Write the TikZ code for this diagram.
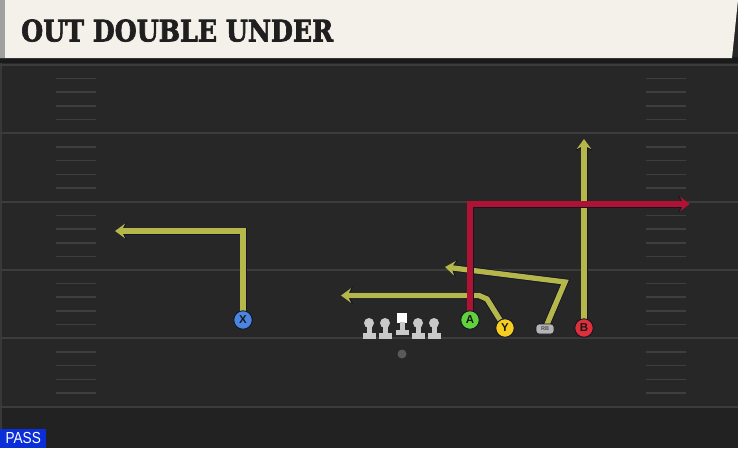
\documentclass[tikz,border=0pt]{standalone}
\usepackage{fontspec}
\setmainfont{Liberation Sans}
\newfontfamily\titlefont[FakeBold=2.5]{DejaVu Serif Bold}
\usetikzlibrary{arrows.meta}
\definecolor{fieldc}{HTML}{272727}
\definecolor{fieldlow}{HTML}{222222}
\definecolor{yardc}{HTML}{3C3C3C}
\definecolor{hashc}{HTML}{3E3E3E}
\definecolor{headc}{HTML}{F4F1EA}
\definecolor{headedge}{HTML}{A0A0A0}
\definecolor{shadowc}{HTML}{1A1A1A}
\definecolor{routey}{HTML}{B6B74B}
\definecolor{router}{HTML}{B01233}
\definecolor{routeedge}{HTML}{15152A}
\definecolor{xblue}{HTML}{4A86E0}
\definecolor{agreen}{HTML}{62D23C}
\definecolor{yyellow}{HTML}{F5CE20}
\definecolor{bred}{HTML}{DE2F3B}
\definecolor{rbgray}{HTML}{B4B4B4}
\definecolor{linec}{HTML}{C9C9C9}
\definecolor{passblue}{HTML}{0A2FD8}
\pgfdeclarelayer{bg}
\pgfdeclarelayer{routes}
\pgfsetlayers{bg,routes,main}
\begin{document}
\begin{tikzpicture}[x=1pt,y=-1pt,
  route/.style={line width=5.3pt, line join=miter, line cap=butt,
    preaction={draw=routeedge, line width=7pt, -{Stealth[length=12pt,width=17pt,inset=4.5pt]}},
    -{Stealth[length=10pt,width=14.5pt,inset=3.6pt]}},
  yroute/.style={route, draw=routey},
  rroute/.style={route, draw=router},
  player/.style={circle, draw=routeedge, line width=0.9pt, minimum size=18.5pt, inner sep=0pt,
    font=\fontsize{11.5}{11.5}\selectfont\bfseries, text=black!90},
  yardline/.style={draw=yardc, line width=2pt},
  hashmark/.style={draw=hashc, line width=1.5pt},
  lineman/.style={fill=linec}
]
\useasboundingbox (0,0) rectangle (738,448);
\begin{pgfonlayer}{bg}
  % field
  \fill[fieldc] (0,0) rectangle (738,448);
  \fill[fieldlow] (0,408) rectangle (738,448);
  \fill[yardc!80!fieldc] (0,58) rectangle (2,448);
  % yard lines
  \foreach \y in {65,133,202,270,338,407} \draw[yardline] (0,\y) -- (738,\y);
  % hash marks
  \foreach \a/\b in {65/133,133/202,202/270,270/338,338/407} {
    \foreach \k in {1,2,3,4} {
      \draw[hashmark] (56,{\a+\k*(\b-\a)/5}) -- (96,{\a+\k*(\b-\a)/5});
      \draw[hashmark] (646,{\a+\k*(\b-\a)/5}) -- (686,{\a+\k*(\b-\a)/5});
    }
  }
  % header
  \fill[shadowc] (0,57) rectangle (738,63);
  \fill[headc] (0,0) -- (738,0) -- (732,58) -- (0,58) -- cycle;
  \fill[headedge] (0,0) rectangle (5,58);
\end{pgfonlayer}

\node[anchor=south west, inner sep=0pt, text=black!88] (title) at (21,42)
  {\resizebox{312pt}{22pt}{\titlefont OUT DOUBLE UNDER}};

% players
\node[player, fill=xblue] (X) at (243,320) {X};
\node[player, fill=agreen] (A) at (470,320) {A};
\node[player, fill=yyellow] (Y) at (505,328) {Y};
\node[player, fill=bred] (B) at (584,328) {B};
\node[draw=routeedge, line width=0.7pt, fill=rbgray, rounded corners=3pt, minimum width=18pt,
  minimum height=10pt, inner sep=0pt, font=\fontsize{5.5}{5.5}\selectfont\bfseries, text=black!70]
  (RB) at (545,329) {RB};
\node[circle, fill=gray!70!black, minimum size=9pt, inner sep=0pt] (QB) at (402,354) {};

% offensive line
\foreach \x/\n in {369/LT,385/LG,418/RG,434/RT} {
  \node[circle, fill=linec, minimum size=10pt, inner sep=0pt] (\n) at (\x,323) {};
  \fill[lineman] (\x-2.5,323) rectangle (\x+2.5,334);
  \fill[lineman] (\x-6.5,333) rectangle (\x+6.5,338.5);
}
\node[fill=white, minimum size=10pt, inner sep=0pt] (C) at (402,318) {};
\fill[lineman] (399.5,322) rectangle (404.5,330);
\fill[lineman] (395.5,329.5) rectangle (408.5,335);

% route ends
\coordinate (xend) at (115,231);
\coordinate (yend) at (341,295.5);
\coordinate (rbend) at (445,267);
\coordinate (aend) at (690,204);
\coordinate (bend) at (584,139);

\begin{pgfonlayer}{routes}
  \draw[yroute] (X.center) |- (xend);
  \draw[yroute] (Y.center) -- (487,299) -- (479,295.5) -- (yend);
  \draw[yroute] (RB.center) -- (565,282) -- (rbend);
  \draw[yroute] (B.center) -- (bend);
  \draw[rroute] (A.center) |- (aend);
\end{pgfonlayer}

% PASS label
\node[anchor=south west, fill=passblue, text=white, inner sep=0pt, minimum width=46pt,
  minimum height=19pt] (pass) at (0,448)
  {\scalebox{0.85}[1]{\fontsize{16}{16}\selectfont PASS}};
\end{tikzpicture}
\end{document}
